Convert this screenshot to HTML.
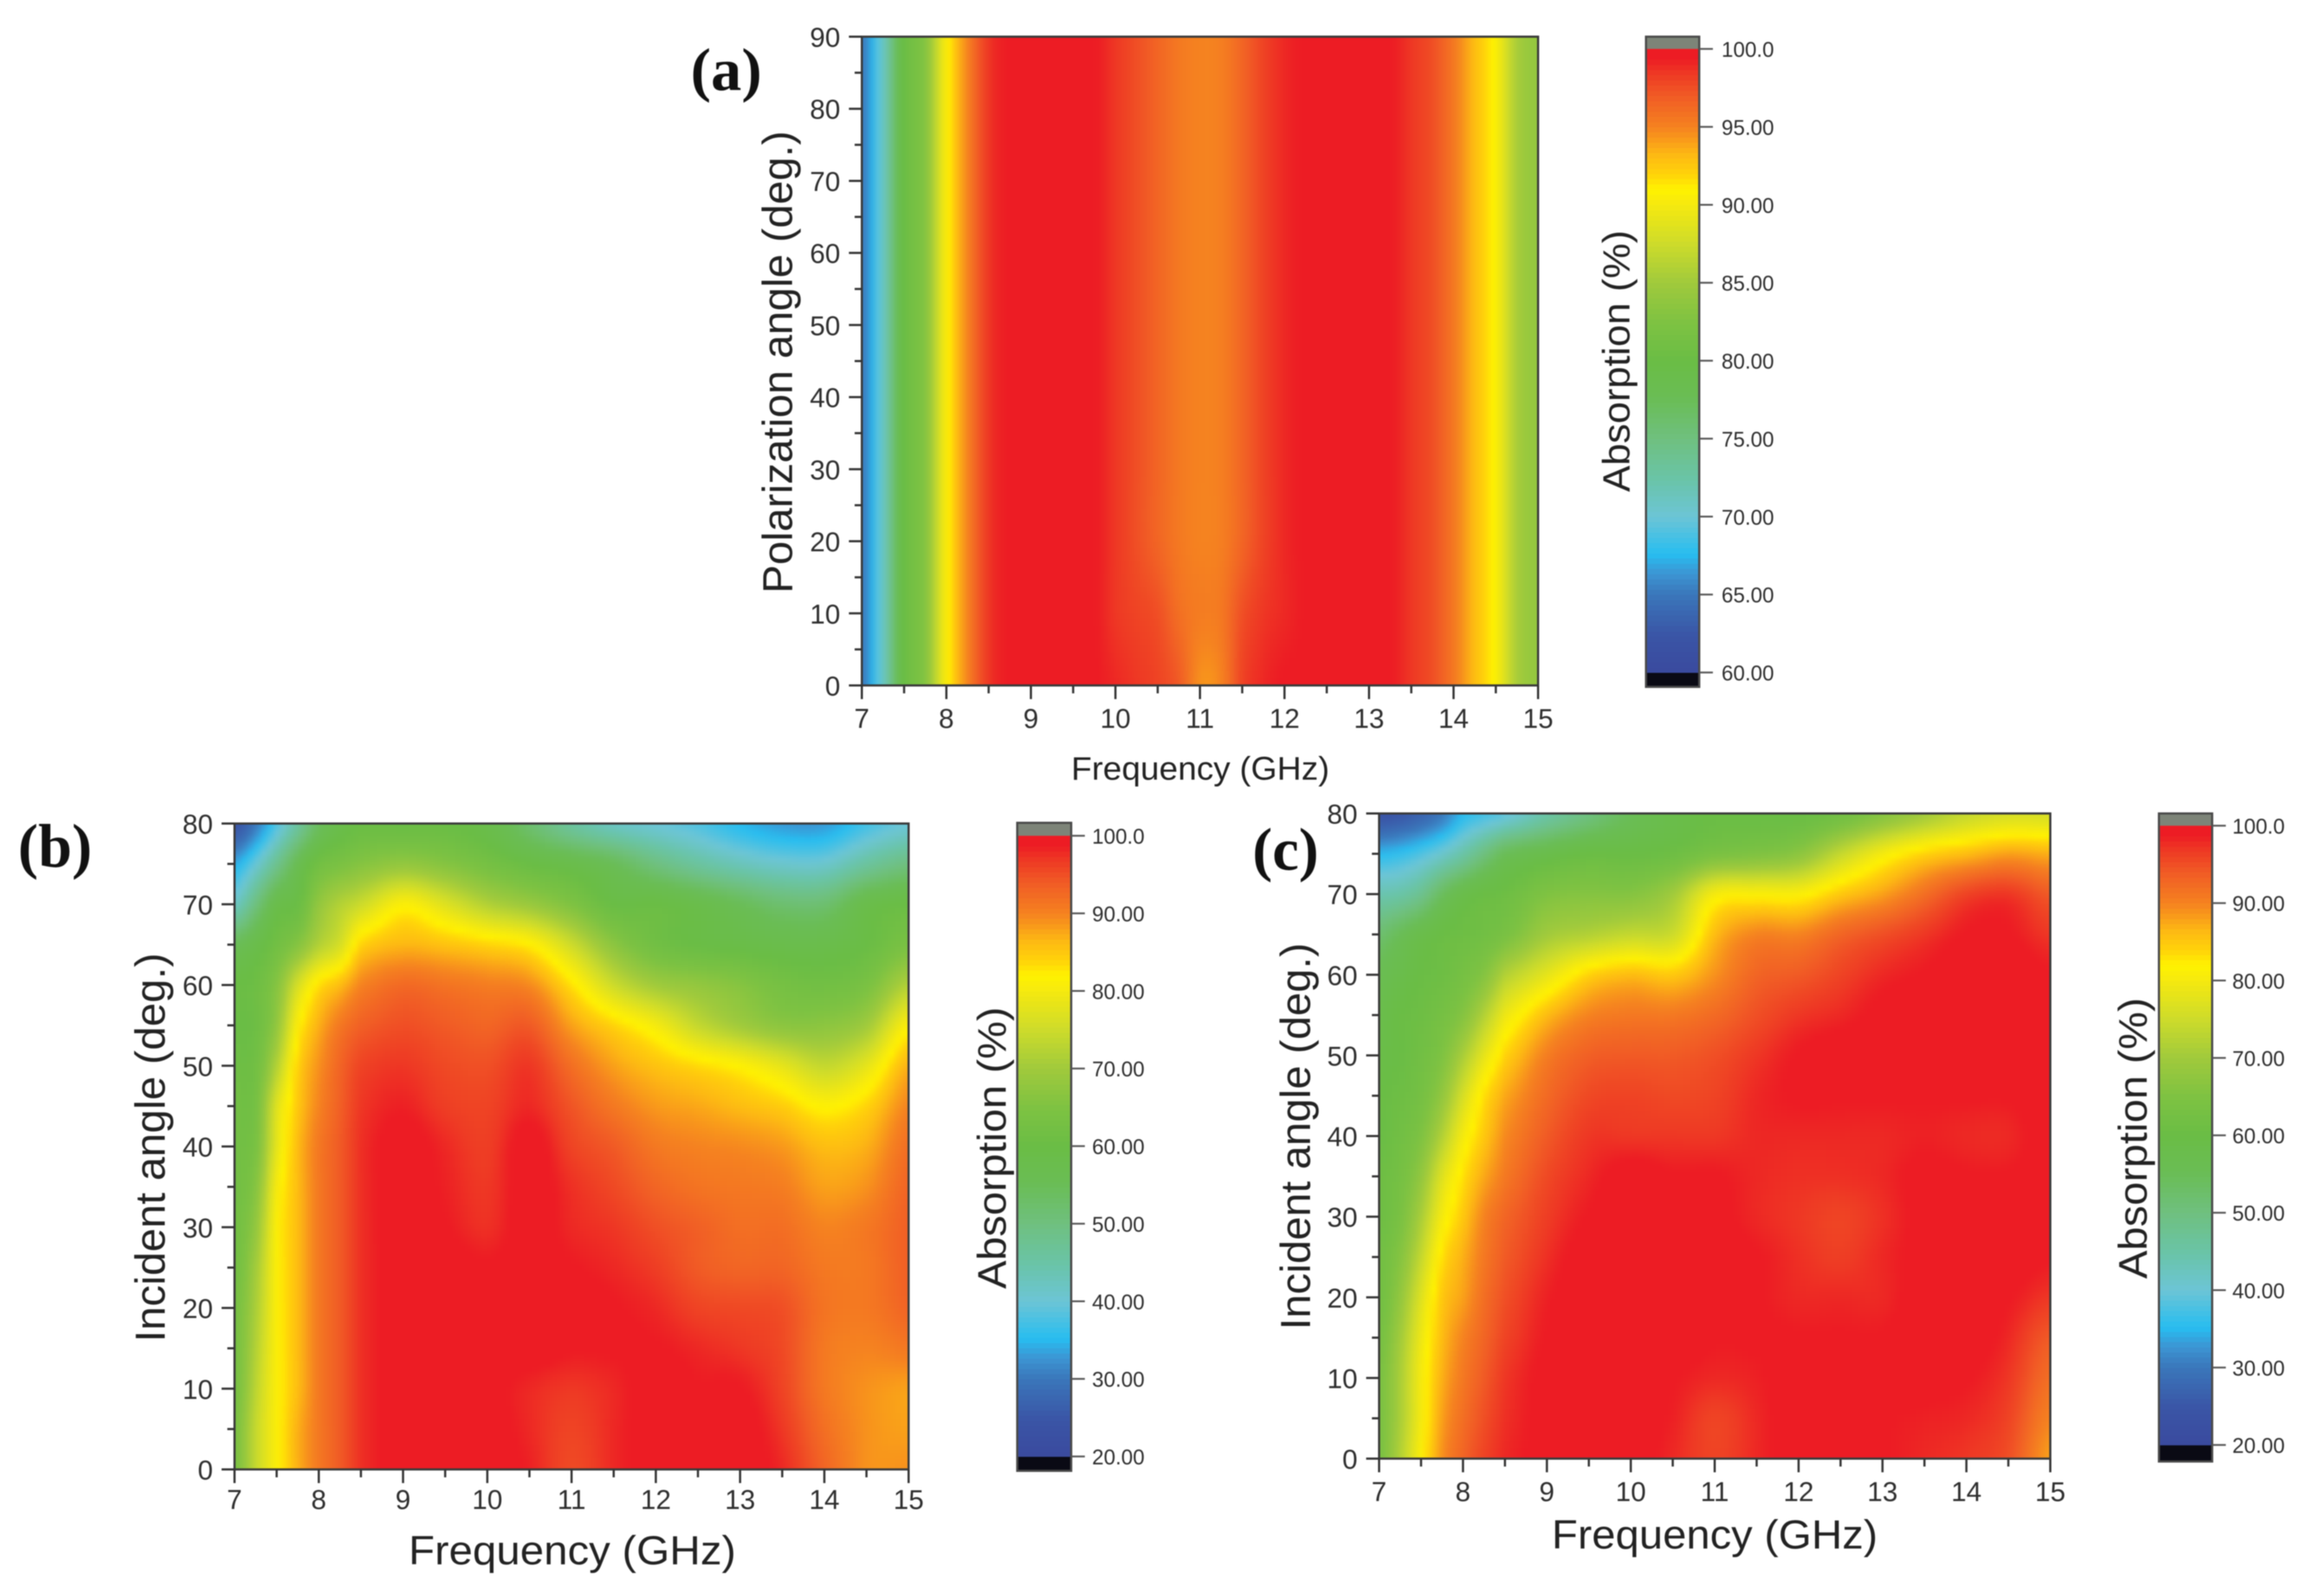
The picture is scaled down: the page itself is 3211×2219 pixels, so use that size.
<!DOCTYPE html>
<html lang="en">
<head>
<meta charset="utf-8">
<title>Absorption maps</title>
<style>
html,body{margin:0;padding:0;background:#fff;}
svg{display:block;font-family:"Liberation Sans",sans-serif;filter:blur(0.9px);}
.panel-tag{font-family:"Liberation Serif",serif;font-weight:bold;fill:#111;}
.title{fill:#222;}
.tick-label{fill:#2e2e2e;}
</style>
</head>
<body>
<svg id="figure" xmlns="http://www.w3.org/2000/svg" width="3211" height="2219" viewBox="0 0 3211 2219">
  <rect x="0" y="0" width="3211" height="2219" fill="#ffffff"/>
  <g id="panel-a"></g>
  <g id="panel-b"></g>
  <g id="panel-c"></g>

  <text class="panel-tag" x="960" y="125" font-size="84" textLength="99" lengthAdjust="spacingAndGlyphs">(a)</text>
  <text class="panel-tag" x="25" y="1205" font-size="86" textLength="103" lengthAdjust="spacingAndGlyphs">(b)</text>
  <text class="panel-tag" x="1741" y="1209" font-size="84" textLength="92" lengthAdjust="spacingAndGlyphs">(c)</text>

  <text class="title" x="1489" y="1084" font-size="45" textLength="359" lengthAdjust="spacingAndGlyphs">Frequency (GHz)</text>
  <text class="title" transform="translate(1101,825) rotate(-90)" font-size="58" textLength="643" lengthAdjust="spacingAndGlyphs">Polarization angle (deg.)</text>
  <text class="title" transform="translate(2265,684) rotate(-90)" font-size="53" textLength="364" lengthAdjust="spacingAndGlyphs">Absorption (%)</text>

  <text class="title" x="568" y="2175" font-size="57" textLength="455" lengthAdjust="spacingAndGlyphs">Frequency (GHz)</text>
  <text class="title" transform="translate(229,1866) rotate(-90)" font-size="58" textLength="541" lengthAdjust="spacingAndGlyphs">Incident angle (deg.)</text>
  <text class="title" transform="translate(1398,1792) rotate(-90)" font-size="56" textLength="392" lengthAdjust="spacingAndGlyphs">Absorption (%)</text>

  <text class="title" x="2157" y="2153" font-size="57" textLength="453" lengthAdjust="spacingAndGlyphs">Frequency (GHz)</text>
  <text class="title" transform="translate(1821,1849) rotate(-90)" font-size="58" textLength="538" lengthAdjust="spacingAndGlyphs">Incident angle (deg.)</text>
  <text class="title" transform="translate(2984,1778) rotate(-90)" font-size="56" textLength="391" lengthAdjust="spacingAndGlyphs">Absorption (%)</text>
</svg>

<script>
// ---------- shared axis data ----------
var freqTicks = [7, 8, 9, 10, 11, 12, 13, 14, 15];
var freqMinorTicks = [7.5, 8.5, 9.5, 10.5, 11.5, 12.5, 13.5, 14.5];
var polarTicks = [0, 10, 20, 30, 40, 50, 60, 70, 80, 90];
var incidentTicks = [0, 10, 20, 30, 40, 50, 60, 70, 80];
var colorbarALabels = ['60.00', '65.00', '70.00', '75.00', '80.00', '85.00', '90.00', '95.00', '100.0'];
var colorbarBCLabels = ['20.00', '30.00', '40.00', '50.00', '60.00', '70.00', '80.00', '90.00', '100.0'];

// ---------- panel (a): absorption %, polarization angle vs frequency ----------
var aFreqs = [7, 7.25, 7.5, 7.75, 8, 8.25, 8.5, 8.75, 9, 9.25, 9.5, 9.75, 10, 10.25, 10.5, 10.75, 11, 11.25, 11.5, 11.75, 12, 12.25, 12.5, 12.75, 13, 13.25, 13.5, 13.75, 14, 14.25, 14.5, 14.75, 15];
var aAngles = [0, 10, 20, 30, 90];
var aRow0 = [65, 71, 80, 83, 90.5, 95, 98.5, 99.5, 100, 100, 100, 99.5, 99, 98.5, 98, 97, 94.5, 95, 98, 99, 99.5, 99.5, 100, 100, 100, 99.5, 98.5, 97.5, 95.5, 93, 90.5, 85.5, 84];
var aRow10 = [65, 71, 80, 83, 90.5, 95, 98.5, 99.5, 100, 100, 100, 99.5, 98.5, 98, 97.5, 96, 95.3, 95.5, 97.5, 98.5, 99, 99.5, 100, 100, 100, 99.5, 98.5, 97.5, 95.5, 93, 90.5, 85.5, 84];
var aRow20 = [65, 71, 80, 83, 90.5, 95, 98.5, 99.5, 100, 100, 100, 99.5, 98.5, 97.5, 96.5, 95.5, 95, 95.2, 96.5, 98, 99, 99.5, 100, 100, 100, 99.5, 98.5, 97.5, 95.5, 93, 90.5, 85.5, 84];
var aRow30 = [65, 71, 80, 83, 90.5, 95, 98.5, 99.5, 100, 100, 100, 99.5, 98.5, 97.5, 96.5, 95.5, 95, 95.2, 96.5, 98, 99, 99.5, 100, 100, 100, 99.5, 98.5, 97.5, 95.5, 93, 90.5, 85.5, 84];
var aRow90 = [65, 71, 80, 83, 90.5, 95, 98.5, 99.5, 100, 100, 100, 99.5, 98.5, 97.5, 96.5, 95.5, 95, 95.2, 96.5, 98, 99, 99.5, 100, 100, 100, 99.5, 98.5, 97.5, 95.5, 93, 90.5, 85.5, 84];
var aValues = [aRow0, aRow10, aRow20, aRow30, aRow90];

// ---------- panels (b) and (c): absorption %, incident angle vs frequency ----------
var bcFreqs = [7, 7.25, 7.5, 7.75, 8, 8.25, 8.5, 9, 9.5, 10, 10.5, 11, 11.5, 12, 12.5, 13, 13.5, 14, 14.5, 15];
var bcAngles = [0, 5, 10, 15, 20, 25, 30, 35, 40, 45, 50, 55, 60, 65, 70, 75, 80];

var bValues = [
  [64, 74, 81, 87, 91, 94, 97.5, 100, 100, 100, 98.5, 95.5, 98, 100, 100, 100, 98, 93, 89, 89],
  [64, 74, 81, 87, 91, 94, 97.5, 100, 100, 100, 98, 96, 98, 100, 100, 100, 97, 92, 89, 88],
  [63, 73, 81, 86, 91, 94, 97.5, 100, 100, 99.5, 98, 97, 98, 100, 99, 99, 96, 91, 89, 88],
  [63, 72, 81, 86, 91, 94, 97.5, 100, 100, 99.5, 100, 99, 99, 99, 98, 97, 95.5, 91, 90, 91],
  [63, 71, 81, 86, 91, 94, 97.5, 100, 100, 99, 100, 100, 99, 98, 96, 95.5, 95, 91.5, 91, 93],
  [62, 70, 81, 86, 91, 94, 97.5, 100, 100, 99, 100, 99, 98, 96.5, 94, 93, 93, 91, 91, 93.5],
  [62, 68, 81, 86, 91, 94, 97.5, 100, 99, 97.5, 100, 98, 97, 95, 93.5, 92, 92, 90, 91, 93.5],
  [62, 66, 80, 86, 91, 94, 97.5, 100, 98.5, 97, 100, 97.5, 95.5, 93, 91.5, 91, 90.5, 88, 89, 93],
  [62, 64, 78, 86, 91, 94, 97.5, 100, 98, 96.5, 100, 96, 94, 91, 90, 89.5, 88.5, 86, 87, 92],
  [62, 63, 77, 85, 90, 93.5, 97, 98.5, 96.5, 96, 98, 94.5, 91, 88.5, 87.5, 86, 84.5, 81.5, 84, 90],
  [61, 62, 72, 84, 89, 93, 96, 97, 95.5, 95, 97, 92, 88, 85.5, 83.5, 81.5, 78, 74, 78, 87],
  [60, 61, 68, 81, 87, 91, 93.5, 95, 94, 93, 94, 88, 84, 80, 74, 70, 67, 67, 70, 81],
  [60, 61, 66, 76, 83, 86, 90, 92.5, 91.5, 90.5, 89.5, 83, 75, 70, 68, 66, 63, 62, 64, 72],
  [55, 58, 62, 66, 72, 76, 84, 86.5, 85.5, 84, 82, 75, 67, 62, 60, 59, 58, 58, 60, 64],
  [42, 50, 58, 60, 68, 72, 75, 81, 77, 72, 69, 65, 60, 60, 58, 55, 52, 52, 58, 60],
  [34, 40, 48, 56, 62, 64, 66, 68, 66, 63, 60, 58, 55, 50, 46, 43, 41, 41, 46, 50],
  [24, 30, 38, 46, 54, 58, 60, 60, 60, 58, 52, 46, 42, 40, 38, 35, 33, 33, 37, 40]
];

var cValues = [
  [64, 72, 81, 89, 93, 96, 98, 99.5, 100, 100, 98, 96, 98, 100, 100, 99, 98, 97, 95, 88],
  [64, 71, 80, 88, 92, 95, 97.5, 99.5, 100, 100, 98.5, 96, 98, 100, 100, 99, 98.5, 98, 96, 90],
  [64, 71, 80, 87, 91, 94, 97, 99.5, 100, 100, 99, 98, 98.5, 100, 100, 99.5, 99.5, 99, 97, 92],
  [63, 70, 79, 86, 90, 93, 96, 99, 100, 100, 100, 99, 99, 99, 99, 99, 100, 100, 98, 94],
  [62, 68, 77, 85, 88, 92, 95, 98.5, 100, 100, 100, 100, 99, 98, 98, 98, 100, 100, 99, 97],
  [62, 66, 74, 83, 87, 91, 94, 97.5, 100, 100, 100, 100, 99, 97.5, 96.5, 98, 99.5, 100, 100, 99],
  [61, 64, 71, 80, 85, 90, 93, 96.5, 99, 100, 100, 99.5, 98, 97, 96, 97.5, 99.5, 100, 100, 100],
  [61, 63, 68, 77, 83, 87.5, 91, 95.5, 98, 100, 99, 99, 98, 97.5, 97.5, 98, 99.5, 99, 99, 100],
  [60, 62, 65, 72, 80, 85, 89.5, 94, 97, 97, 97, 97, 98, 98, 98, 98, 98.5, 98, 98, 100],
  [60, 61, 63, 68, 76, 83, 87.5, 92.5, 95.5, 96, 95.5, 96, 98, 99, 99, 99, 99, 99, 99, 100],
  [59, 60, 62, 65, 71, 78, 84, 90.5, 93.5, 94, 94, 95, 97, 99, 100, 100, 100, 100, 100, 100],
  [58, 60, 61, 63, 66, 72, 79, 86, 90, 91, 91, 92.5, 95, 97, 98, 99.5, 100, 100, 100, 99.5],
  [56, 58, 60, 61, 63, 66, 72, 78, 84, 86, 85, 89, 93, 94, 96, 98, 99, 100, 100, 99],
  [52, 55, 58, 60, 61, 62, 64, 70, 72, 74, 75, 86, 90, 90, 93, 95, 97, 99, 99, 97],
  [44, 45, 48, 54, 58, 60, 61, 65, 66, 66, 70, 80, 81, 81, 85, 88, 92, 96, 97, 94],
  [35, 36, 38, 41, 45, 50, 55, 58, 60, 60, 61, 64, 65, 67, 74, 80, 84, 86, 88, 87],
  [24, 25, 27, 30, 35, 37, 39, 45, 50, 55, 58, 60, 60, 60, 62, 66, 70, 74, 76, 76]
];

// ---------- colour scale (fraction of range -> colour) ----------
var colorFractions = [0, 0.06, 0.125, 0.16, 0.19, 0.25, 0.31, 0.375, 0.44, 0.5, 0.56, 0.625, 0.69, 0.75, 0.775, 0.80, 0.83, 0.875, 0.92, 0.96, 0.985, 1];
var colorHexes = ['#3a4a9f', '#3a55a6', '#3a76ba', '#3c96d4', '#27bdf0', '#6cc5d6', '#6ac4a8', '#6fc07f', '#6abd55', '#6abd45', '#7dc242', '#a0ca3c', '#cfdc2a', '#f5e90f', '#fff200', '#ffd20a', '#fdb913', '#f58220', '#f15f25', '#ee3a24', '#ed1c24', '#ed1c24'];

var SVG_NS = 'http://www.w3.org/2000/svg';
var CELL_SIZE = 9;
var OVERSCAN = 9;

function hexToRgb(h) {
  return [parseInt(h.substr(1, 2), 16), parseInt(h.substr(3, 2), 16), parseInt(h.substr(5, 2), 16)];
}
var colorRgb = colorHexes.map(hexToRgb);

function colorFor(t) {
  if (t <= 0) t = 0;
  if (t >= 1) t = 1;
  var i = 0;
  while (i < colorFractions.length - 2 && t > colorFractions[i + 1]) i++;
  var f = (t - colorFractions[i]) / (colorFractions[i + 1] - colorFractions[i]);
  var a = colorRgb[i], b = colorRgb[i + 1];
  return 'rgb(' + Math.round(a[0] + (b[0] - a[0]) * f) + ',' + Math.round(a[1] + (b[1] - a[1]) * f) + ',' + Math.round(a[2] + (b[2] - a[2]) * f) + ')';
}

function makeEl(tag, parent, attrs) {
  var el = document.createElementNS(SVG_NS, tag);
  for (var k in attrs) el.setAttribute(k, attrs[k]);
  parent.appendChild(el);
  return el;
}

function locate(arr, v) {
  var i = 0;
  while (i < arr.length - 2 && v > arr[i + 1]) i++;
  return [i, (v - arr[i]) / (arr[i + 1] - arr[i])];
}

function catmull(p0, p1, p2, p3, t) {
  return 0.5 * (2 * p1 + (p2 - p0) * t + (2 * p0 - 5 * p1 + 4 * p2 - p3) * t * t + (3 * p1 - p0 - 3 * p2 + p3) * t * t * t);
}

function sampleGrid(matrix, xs, ys, x, y) {
  x = Math.max(xs[0], Math.min(xs[xs.length - 1], x));
  y = Math.max(ys[0], Math.min(ys[ys.length - 1], y));
  var lx = locate(xs, x), ly = locate(ys, y);
  var rows = [];
  for (var r = -1; r <= 2; r++) {
    var row = matrix[Math.max(0, Math.min(ys.length - 1, ly[0] + r))];
    var c = lx[0];
    var n = xs.length - 1;
    rows.push(catmull(row[Math.max(0, c - 1)], row[c], row[Math.min(n, c + 1)], row[Math.min(n, c + 2)], lx[1]));
  }
  return catmull(rows[0], rows[1], rows[2], rows[3], ly[1]);
}

function drawPanel(cfg) {
  var g = document.getElementById(cfg.id);
  var xScale = function (f) { return cfg.left + (f - 7) / 8 * (cfg.right - cfg.left); };
  var yScale = function (a) { return cfg.bottom - a / cfg.maxAngle * (cfg.bottom - cfg.top); };
  var xInvert = function (px) { return 7 + (px - cfg.left) / (cfg.right - cfg.left) * 8; };
  var yInvert = function (py) { return (cfg.bottom - py) / (cfg.bottom - cfg.top) * cfg.maxAngle; };
  var colorScale = function (v) { return colorFor((v - cfg.min) / (cfg.max - cfg.min)); };

  // heatmap cells, softened and clipped to the plot area
  var clip = makeEl('clipPath', g, { id: cfg.id + '-clip' });
  
  
  makeEl('rect', clip, { x: cfg.left, y: cfg.top, width: cfg.right - cfg.left, height: cfg.bottom - cfg.top });
  var clipped = makeEl('g', g, { 'clip-path': 'url(#' + cfg.id + '-clip)' });
  
  
  var heat = makeEl('g', clipped, { 'shape-rendering': 'crispEdges', style: 'filter:blur(3.5px)' });
  
  
  for (var py = cfg.top - OVERSCAN; py < cfg.bottom + OVERSCAN; py += CELL_SIZE) {
    for (var px = cfg.left - OVERSCAN; px < cfg.right + OVERSCAN; px += CELL_SIZE) {
      var v = sampleGrid(cfg.values, cfg.freqs, cfg.angles, xInvert(px + CELL_SIZE / 2), yInvert(py + CELL_SIZE / 2));
      var cell = makeEl('rect', heat, { x: px, y: py, width: CELL_SIZE + 0.5, height: CELL_SIZE + 0.5, fill: colorScale(v) });
      
      
    }
  }

  // frame
  var frame = makeEl('rect', g, { x: cfg.left, y: cfg.top, width: cfg.right - cfg.left, height: cfg.bottom - cfg.top, fill: 'none', stroke: '#3a3a3a', 'stroke-width': 3 });
  
  

  // x axis ticks
  freqTicks.forEach(function (f) {
    var t = makeEl('line', g, { x1: xScale(f), x2: xScale(f), y1: cfg.bottom, y2: cfg.bottom + 19, stroke: '#333', 'stroke-width': 3 });
    
    
    var lab = makeEl('text', g, { x: xScale(f), y: cfg.xLabelY, 'font-size': 38, 'text-anchor': 'middle', 'class': 'tick-label' });
    
    
    lab.textContent = String(f);
  });
  freqMinorTicks.forEach(function (f) {
    var t = makeEl('line', g, { x1: xScale(f), x2: xScale(f), y1: cfg.bottom, y2: cfg.bottom + 11, stroke: '#333', 'stroke-width': 3 });
    
    
  });

  // y axis ticks
  cfg.yTicks.forEach(function (a, i) {
    var t = makeEl('line', g, { x1: cfg.left - 18, x2: cfg.left, y1: yScale(a), y2: yScale(a), stroke: '#333', 'stroke-width': 3 });
    
    
    var lab = makeEl('text', g, { x: cfg.left - 30, y: yScale(a) + 14, 'font-size': 38, 'text-anchor': 'end', 'class': 'tick-label' });
    
    
    lab.textContent = String(a);
    if (i < cfg.yTicks.length - 1) {
      var m = makeEl('line', g, { x1: cfg.left - 10, x2: cfg.left, y1: yScale(a + 5), y2: yScale(a + 5), stroke: '#333', 'stroke-width': 3 });
      
      
    }
  });

  // colour bar
  var cb = cfg.bar;
  var barScale = function (v) { return cb.y0 - (v - cfg.min) / (cfg.max - cfg.min) * (cb.y0 - cb.y100); };
  var barGroup = makeEl('g', g, { 'shape-rendering': 'crispEdges' });
  
  
  var over = makeEl('rect', barGroup, { x: cb.left, y: cb.top, width: cb.right - cb.left, height: barScale(cfg.max) - cb.top, fill: '#7d8478' });
  
  
  var under = makeEl('rect', barGroup, { x: cb.left, y: barScale(cfg.min), width: cb.right - cb.left, height: cb.bottom - barScale(cfg.min), fill: '#0a0a14' });
  
  
  var steps = 120;
  for (var s = 0; s < steps; s++) {
    var v0 = cfg.min + (cfg.max - cfg.min) * s / steps;
    var v1 = cfg.min + (cfg.max - cfg.min) * (s + 1) / steps;
    var seg = makeEl('rect', barGroup, { x: cb.left, y: barScale(v1), width: cb.right - cb.left, height: barScale(v0) - barScale(v1) + 0.6, fill: colorScale((v0 + v1) / 2) });
    
    
  }
  var barFrame = makeEl('rect', g, { x: cb.left, y: cb.top, width: cb.right - cb.left, height: cb.bottom - cb.top, fill: 'none', stroke: '#4a4a4a', 'stroke-width': 3 });
  
  
  cfg.barLabels.forEach(function (label) {
    var val = parseFloat(label);
    var t = makeEl('line', g, { x1: cb.right, x2: cb.right + 19, y1: barScale(val), y2: barScale(val), stroke: '#555', 'stroke-width': 2.5 });
    
    
    var lab = makeEl('text', g, { x: cb.labelX, y: barScale(val) + 11, 'font-size': 30, textLength: 73, lengthAdjust: 'spacingAndGlyphs', 'class': 'tick-label' });
    
    
    lab.textContent = label;
  });
}

drawPanel({
  id: 'panel-a', left: 1198, right: 2138, top: 51, bottom: 953, maxAngle: 90,
  freqs: aFreqs, angles: aAngles, values: aValues, min: 60, max: 100,
  yTicks: polarTicks, xLabelY: 1012, barLabels: colorbarALabels,
  bar: { left: 2288, right: 2362, top: 51, bottom: 955, y100: 68, y0: 935, labelX: 2393 }
});
drawPanel({
  id: 'panel-b', left: 326, right: 1263, top: 1145, bottom: 2043, maxAngle: 80,
  freqs: bcFreqs, angles: bcAngles, values: bValues, min: 20, max: 100,
  yTicks: incidentTicks, xLabelY: 2098, barLabels: colorbarBCLabels,
  bar: { left: 1414, right: 1489, top: 1144, bottom: 2045, y100: 1162, y0: 2025, labelX: 1518 }
});
drawPanel({
  id: 'panel-c', left: 1917, right: 2850, top: 1131, bottom: 2028, maxAngle: 80,
  freqs: bcFreqs, angles: bcAngles, values: cValues, min: 20, max: 100,
  yTicks: incidentTicks, xLabelY: 2087, barLabels: colorbarBCLabels,
  bar: { left: 3001, right: 3075, top: 1131, bottom: 2032, y100: 1148, y0: 2009, labelX: 3103 }
});
</script>
</body>
</html>
